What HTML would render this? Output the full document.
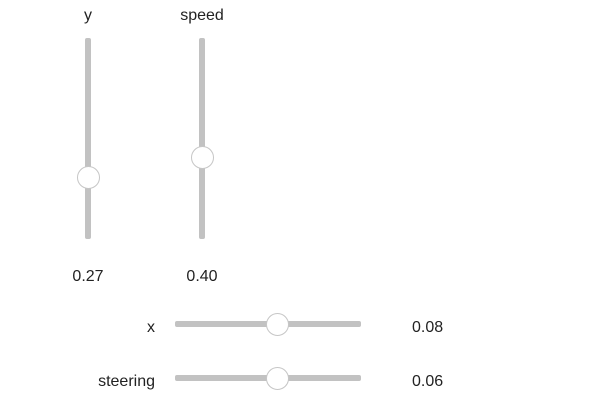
<!DOCTYPE html>
<html><head><meta charset="utf-8"><style>
body{margin:0;width:595px;height:416px;background:#fff;position:relative;overflow:hidden;font-family:"Liberation Sans","DejaVu Sans",sans-serif;font-size:16px;color:#222}
.track{position:absolute;background:#c2c2c2;border-radius:2px}
.handle{position:absolute;border-radius:50%;background:#fff;border:1.5px solid #c6c6c6;box-sizing:border-box}
.lbl{position:absolute;line-height:18px;white-space:nowrap}
</style></head><body>
<script>
var vNames=["y","speed"];
var vValues=["0.27","0.40"];
var vHandleFrac=[0.31,0.41];
var hNames=["x","steering"];
var hValues=["0.08","0.06"];
var hHandleFrac=[0.55,0.55];
var root=document.body;
function mk(cls,name,inter,css,txt){var e=document.createElement('div');e.className=cls;


e.style.cssText=css;if(txt!==undefined)e.textContent=txt;root.appendChild(e);return e;}
var vx=[88,202],vTop=38,vBot=239;
vNames.forEach(function(n,i){
 var cx=vx[i];
 mk('lbl',n+'-label','false','left:'+(cx-40)+'px;width:80px;text-align:center;top:7px;',n);
 mk('track',n+'-slider-track','true','left:'+(cx-3)+'px;top:'+vTop+'px;width:6px;height:'+(vBot-vTop)+'px;');
 var cy=vBot-vHandleFrac[i]*(vBot-vTop);
 mk('handle',n+'-slider-handle','true','left:'+(cx-11)+'px;top:'+(cy-11)+'px;width:23px;height:23px;');
 mk('lbl',n+'-value','false','left:'+(cx-40)+'px;width:80px;text-align:center;top:268px;',vValues[i]);
});
var hy=[324,378],hL=175,hR=361;
hNames.forEach(function(n,i){
 var cy=hy[i];
 mk('lbl',n+'-label','false','left:0px;width:155px;text-align:right;top:'+(cy-5)+'px;',n);
 mk('track',n+'-slider-track','true','left:'+hL+'px;top:'+(cy-3)+'px;width:'+(hR-hL)+'px;height:6px;');
 var cx=hL+hHandleFrac[i]*(hR-hL);
 mk('handle',n+'-slider-handle','true','left:'+(cx-11)+'px;top:'+(cy-11)+'px;width:23px;height:23px;');
 mk('lbl',n+'-value','false','left:412px;top:'+(cy-5)+'px;',hValues[i]);
});
</script>
</body></html>
